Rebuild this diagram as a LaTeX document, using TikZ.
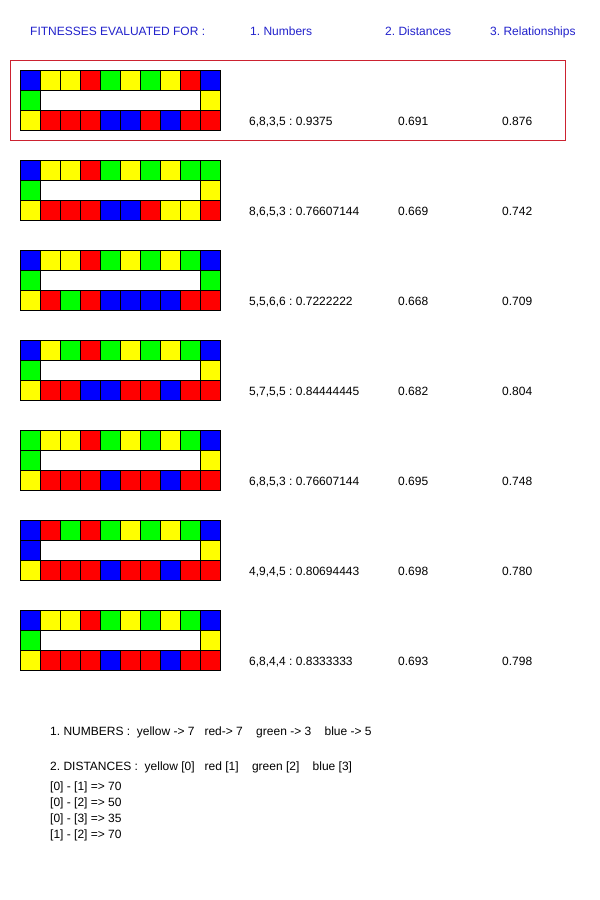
\documentclass[tikz,border=0pt]{standalone}
\usepackage{fontspec}
\setmainfont{Liberation Sans}
\definecolor{cb}{RGB}{0,0,255}
\definecolor{cy}{RGB}{255,255,0}
\definecolor{cr}{RGB}{255,0,0}
\definecolor{cg}{RGB}{0,255,0}
\definecolor{hdrblue}{RGB}{34,34,204}
\definecolor{boxred}{RGB}{204,34,48}
\newcommand\fitgrid[5]{%
  \foreach \c [count=\i from 0] in {#2} {\filldraw[fill=\c, cell] (20+20*\i,#1) rectangle ++(20,20);}
  \filldraw[fill=#3, cell] (20,#1+20) rectangle ++(20,20);
  \filldraw[fill=#4, cell] (200,#1+20) rectangle ++(20,20);
  \foreach \c [count=\i from 0] in {#5} {\filldraw[fill=\c, cell] (20+20*\i,#1+40) rectangle ++(20,20);}
}
\begin{document}
\frenchspacing
\begin{tikzpicture}[x=1pt,y=-1pt,
  cell/.style={draw=black,line width=1pt},
  hdr/.style={anchor=base west,inner sep=0pt,text=hdrblue,font=\fontsize{12}{14}\selectfont},
  txt/.style={anchor=base west,inner sep=0pt,text=black,font=\fontsize{12}{14}\selectfont}]
\useasboundingbox (0,0) rectangle (600,900);
\fill[white] (0,0) rectangle (600,900);
% header
\node[hdr] (h0) at (30,35) {FITNESSES EVALUATED FOR :};
\node[hdr] (h1) at (250,35) {1. Numbers};
\node[hdr] (h2) at (385,35) {2. Distances};
\node[hdr] (h3) at (490,35) {3. Relationships};
% highlight box
\draw[boxred,line width=1pt] (10,60) rectangle (565,140);
% grids
\fitgrid{70}{cb,cy,cy,cr,cg,cy,cg,cy,cr,cb}{cg}{cy}{cy,cr,cr,cr,cb,cb,cr,cb,cr,cr}
\fitgrid{160}{cb,cy,cy,cr,cg,cy,cg,cy,cg,cg}{cg}{cy}{cy,cr,cr,cr,cb,cb,cr,cy,cy,cr}
\fitgrid{250}{cb,cy,cy,cr,cg,cy,cg,cy,cg,cb}{cg}{cg}{cy,cr,cg,cr,cb,cb,cb,cb,cr,cr}
\fitgrid{340}{cb,cy,cg,cr,cg,cy,cg,cy,cg,cb}{cg}{cy}{cy,cr,cr,cb,cb,cr,cr,cb,cr,cr}
\fitgrid{430}{cg,cy,cy,cr,cg,cy,cg,cy,cg,cb}{cg}{cy}{cy,cr,cr,cr,cb,cr,cr,cb,cr,cr}
\fitgrid{520}{cb,cr,cg,cr,cg,cy,cg,cy,cg,cb}{cb}{cy}{cy,cr,cr,cr,cb,cr,cr,cb,cr,cr}
\fitgrid{610}{cb,cy,cy,cr,cg,cy,cg,cy,cg,cb}{cg}{cy}{cy,cr,cr,cr,cb,cr,cr,cb,cr,cr}
% row values
\node[txt] (a1) at (249,125) {6,8,3,5 : 0.9375};
\node[txt] (b1) at (398,125) {0.691};
\node[txt] (c1) at (502,125) {0.876};
\node[txt] (a2) at (249,215) {8,6,5,3 : 0.76607144};
\node[txt] (b2) at (398,215) {0.669};
\node[txt] (c2) at (502,215) {0.742};
\node[txt] (a3) at (249,305) {5,5,6,6 : 0.7222222};
\node[txt] (b3) at (398,305) {0.668};
\node[txt] (c3) at (502,305) {0.709};
\node[txt] (a4) at (249,395) {5,7,5,5 : 0.84444445};
\node[txt] (b4) at (398,395) {0.682};
\node[txt] (c4) at (502,395) {0.804};
\node[txt] (a5) at (249,485) {6,8,5,3 : 0.76607144};
\node[txt] (b5) at (398,485) {0.695};
\node[txt] (c5) at (502,485) {0.748};
\node[txt] (a6) at (249,575) {4,9,4,5 : 0.80694443};
\node[txt] (b6) at (398,575) {0.698};
\node[txt] (c6) at (502,575) {0.780};
\node[txt] (a7) at (249,665) {6,8,4,4 : 0.8333333};
\node[txt] (b7) at (398,665) {0.693};
\node[txt] (c7) at (502,665) {0.798};
% legend
\node[txt] (l1) at (50,735) {1. NUMBERS :\ \ yellow -> 7\ \ \ red-> 7\ \ \ \ green -> 3\ \ \ \ blue -> 5};
\node[txt] (l2) at (50,770) {2. DISTANCES :\ \ yellow [0]\ \ \ red [1]\ \ \ \ green [2]\ \ \ \ blue [3]};
\node[txt] (d1) at (50,790) {[0] - [1] => 70};
\node[txt] (d2) at (50,806) {[0] - [2] => 50};
\node[txt] (d3) at (50,822) {[0] - [3] => 35};
\node[txt] (d4) at (50,838) {[1] - [2] => 70};
\end{tikzpicture}
\end{document}
